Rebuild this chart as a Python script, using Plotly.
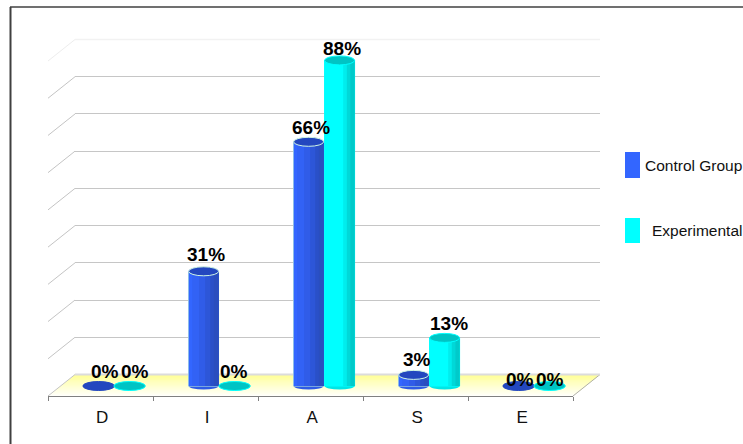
import plotly.graph_objects as go

categories = ["D", "I", "A", "S", "E"]
control_group = [0, 31, 66, 3, 0]
experimental = [0, 0, 88, 13, 0]
grid_values = [10, 20, 30, 40, 50, 60, 70, 80]

W, H = 743, 444
FONT = "Liberation Sans"


def fx(px):
    return px / W


def fy(px):
    return 1 - px / H


# Chart geometry (pixels)
FRONT_L, FRONT_R, FRONT_Y = 48, 573, 396
BACK_L, BACK_R, BACK_Y = 75, 600, 374.5
BACK_TOP = 39.5
DX, DY = BACK_L - FRONT_L, FRONT_Y - BACK_Y
BAR_ZERO = 386
PX_PER_UNIT = 3.7
UNIT = (FRONT_R - FRONT_L) / 5
BAR_W = 30 / UNIT
TICK_LABEL_NUDGE = 0.015

series = [
    dict(name="Control Group", values=control_group, centre=-0.018,
         bands=[(0.00, "#3366FF"), (0.12, "#3262F5"), (0.35, "#305CE8"),
                (0.55, "#2D56D8"), (0.72, "#2A50C8"), (0.84, "#2A4EBE")],
         outline="#C4F2D8", top="#2347BF", top_line="#CFF5E4", cap="#2E5BE6",
         blob_line="#2347BF"),
    dict(name="Experimental", values=experimental, centre=0.277,
         bands=[(0.00, "#00FFFF"), (0.62, "#00EDED"), (0.74, "#00D8D8"), (0.86, "#00CACA")],
         outline="#00FFFF", top="#00C4C4", top_line="#00FFFF", cap="#00E6E6",
         blob_line="#00FFFF"),
]

# Pixel nudges for the value labels, per series then per category
label_dx = [[6, 2, 2, 3, 1], [5, -1, 2, 4, 0]]
label_dy = [[15, 17, 14, 15, 7], [15, 15, 12, 14, 7]]

fig = go.Figure()

# Back wall grid, carried by the first subplot so it stays under the bars
fig.add_trace(go.Scatter(x=[0], y=[0], mode="none", showlegend=False, hoverinfo="skip"))

# Bars: each shade covers the body from its left edge rightwards, painted in order
for s in series:
    xs = [i + s["centre"] for i in range(len(categories))]
    fig.add_trace(go.Bar(
        x=xs, y=s["values"], width=BAR_W, xaxis="x2", yaxis="y2", showlegend=False,
        marker=dict(color=s["outline"], line=dict(color=s["outline"], width=1)),
        hoverinfo="skip"))
    for left, colour in s["bands"]:
        offset = (left + 1) / 2 - 0.5
        fig.add_trace(go.Bar(
            x=[x + offset * BAR_W for x in xs], y=s["values"],
            width=(1 - left) * BAR_W, xaxis="x2", yaxis="y2", showlegend=False,
            marker=dict(color=colour, line=dict(width=0)), hoverinfo="skip"))

shapes = []

# Yellow floor, fading from the back edge to white at the front
ROWS = 22
for r in range(ROWS):
    t0, t1 = r / ROWS, (r + 1) / ROWS
    y0, y1 = BACK_Y + t0 * DY, BACK_Y + t1 * DY
    xl0, xl1 = BACK_L - t0 * DX, BACK_L - t1 * DX
    xr0, xr1 = BACK_R - t0 * DX, BACK_R - t1 * DX
    blue = int(150 + 105 * t0)
    shapes.append(dict(
        type="path", xref="paper", yref="paper", layer="below", line=dict(width=0),
        fillcolor=f"rgb(255,255,{blue})",
        path=f"M{fx(xl0)},{fy(y0)} L{fx(xr0)},{fy(y0)} L{fx(xr1)},{fy(y1 + 0.5)} "
             f"L{fx(xl1)},{fy(y1 + 0.5)} Z"))

# Oblique wall lines running from the grid out to the front plane
for v in [0] + grid_values + [90]:
    y = BACK_Y - (BACK_Y - BACK_TOP) * v / 90
    shapes.append(dict(
        type="line", xref="paper", yref="paper", layer="below",
        x0=fx(FRONT_L), x1=fx(BACK_L), y0=fy(y + DY), y1=fy(y),
        line=dict(color="#EDEDED" if v == 90 else "#C4C4C4", width=1)))
shapes.append(dict(
    type="line", xref="paper", yref="paper", layer="below",
    x0=fx(FRONT_R), x1=fx(BACK_R), y0=fy(FRONT_Y), y1=fy(BACK_Y),
    line=dict(color="#B0B0A8", width=1)))
# Lighter top and floor lines of the back wall
shapes.append(dict(
    type="line", xref="paper", yref="paper", layer="below",
    x0=fx(BACK_L), x1=fx(BACK_R), y0=fy(BACK_TOP), y1=fy(BACK_TOP),
    line=dict(color="#F2F2F2", width=1.5)))
shapes.append(dict(
    type="line", xref="paper", yref="paper", layer="below",
    x0=fx(BACK_L), x1=fx(BACK_R), y0=fy(BACK_Y), y1=fy(BACK_Y),
    line=dict(color="#DCDCDC", width=2)))

# Cylinder caps: rounded foot beneath the body and the elliptical top
half_w = BAR_W / 2
for s in series:
    for i, v in enumerate(s["values"]):
        c = i + s["centre"]
        if v > 0:
            shapes.append(dict(
                type="circle", xref="x2", yref="y2", layer="below", ysizemode="pixel",
                yanchor=0, x0=c - half_w, x1=c + half_w, y0=-3.5, y1=3.5,
                fillcolor=s["cap"], line=dict(width=0)))
            shapes.append(dict(
                type="circle", xref="x2", yref="y2", layer="above", ysizemode="pixel",
                yanchor=v, x0=c - half_w, x1=c + half_w, y0=-4.5, y1=4.5,
                fillcolor=s["top"], line=dict(color=s["top_line"], width=1)))
        else:
            shapes.append(dict(
                type="circle", xref="x2", yref="y2", layer="above", ysizemode="pixel",
                yanchor=v, x0=c - half_w * 1.05, x1=c + half_w * 1.05, y0=-4.5, y1=4.5,
                fillcolor=s["top"], line=dict(color=s["blob_line"], width=1)))

# Outer frame, open on the right and at the bottom
shapes.append(dict(type="line", xref="paper", yref="paper", layer="above",
                   x0=fx(10.5), x1=fx(10.5), y0=fy(7), y1=fy(444),
                   line=dict(color="#404040", width=2)))
shapes.append(dict(type="line", xref="paper", yref="paper", layer="above",
                   x0=fx(10), x1=fx(743), y0=fy(7), y1=fy(7),
                   line=dict(color="#404040", width=1.5)))

# Legend swatches
for s, (top, bottom) in zip(series, [(152, 178), (218, 243)]):
    shapes.append(dict(type="rect", xref="paper", yref="paper", layer="above",
                       x0=fx(625), x1=fx(640), y0=fy(bottom), y1=fy(top),
                       fillcolor=s["bands"][0][1], line=dict(width=0)))

annotations = []
for si, s in enumerate(series):
    for i, v in enumerate(s["values"]):
        annotations.append(dict(
            xref="x2", yref="y2", x=i + s["centre"], y=v, text=f"{v}%", showarrow=False,
            xshift=label_dx[si][i], yshift=label_dy[si][i], xanchor="center", yanchor="middle",
            font=dict(family=FONT, size=19, color="#000000", weight="bold")))

for s, (right, mid) in zip(series, [(742, 165), (742, 230)]):
    annotations.append(dict(
        xref="paper", yref="paper", x=fx(right), y=fy(mid), text=s["name"], showarrow=False,
        xanchor="right", yanchor="middle", xshift=2,
        font=dict(family=FONT, size=15.5, color="#111111")))

hidden_axis = dict(visible=False, showgrid=False, zeroline=False)
fig.update_layout(
    width=W, height=H, autosize=False,
    margin=dict(l=0, r=0, t=0, b=0), showlegend=False,
    paper_bgcolor="#FFFFFF", plot_bgcolor="rgba(0,0,0,0)",
    barmode="overlay",
    # Back wall: plain gridlines only
    xaxis=dict(domain=[fx(BACK_L), fx(BACK_R)], range=[0, 1], **hidden_axis),
    yaxis=dict(domain=[fy(BACK_Y), fy(BACK_TOP)], range=[0, 90], showgrid=True,
               gridcolor="#C6C6C6", gridwidth=1.2, tickvals=grid_values, showticklabels=False,
               ticks="", showline=False, zeroline=False),
    # Front plane: category axis and bar values
    xaxis2=dict(domain=[fx(FRONT_L), fx(FRONT_R)], range=[-0.5, 4.5], anchor="free",
                position=fy(FRONT_Y), showgrid=False, zeroline=False, showline=True,
                linecolor="#808080", linewidth=1,
                tickvals=[i + TICK_LABEL_NUDGE for i in range(len(categories))],
                ticktext=categories, ticks="",
                ticklabelstandoff=6, tickfont=dict(family=FONT, size=17, color="#111111"),
                minor=dict(tickvals=[i - 0.5 for i in range(len(categories) + 1)],
                           ticks="outside", ticklen=4, tickcolor="#808080", tickwidth=1,
                           showgrid=False)),
    # The range reaches below zero so the flat caps at the floor are not clipped
    yaxis2=dict(domain=[fy(FRONT_Y), fy(6)],
                range=[-(FRONT_Y - BAR_ZERO) / PX_PER_UNIT, (BAR_ZERO - 6) / PX_PER_UNIT],
                anchor="x2", **hidden_axis),
    shapes=shapes, annotations=annotations,
)

fig.write_html("out.html")
